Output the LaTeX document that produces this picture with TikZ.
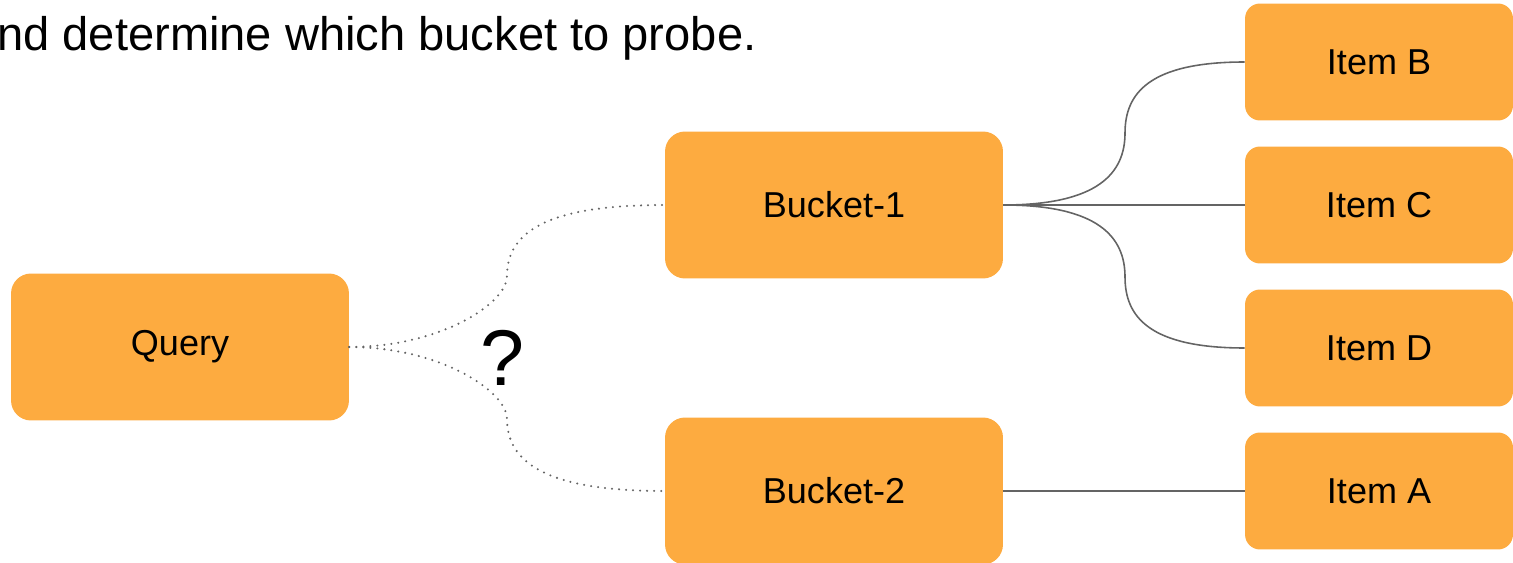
\documentclass[tikz,border=0pt]{standalone}
\usepackage{fontspec}
\setmainfont{Liberation Sans}
\usetikzlibrary{positioning}

\definecolor{boxorange}{RGB}{253,171,64}
\definecolor{linegray}{RGB}{100,100,100}

\begin{document}
\begin{tikzpicture}[x=0.02cm, y=-0.02cm,
            bigbox/.style={rectangle, rounded corners=0.4cm, fill=boxorange, inner sep=0pt,
                minimum width=6.76cm, minimum height=2.94cm, font=\fontsize{20.5}{24}\selectfont},
            itembox/.style={rectangle, rounded corners=0.3cm, fill=boxorange, inner sep=0pt,
                minimum width=5.36cm, minimum height=2.34cm, font=\fontsize{20.5}{24}\selectfont},
            link/.style={draw=linegray, line width=0.9pt},
            probe/.style={draw=linegray, line width=1.3pt, line cap=round, dash pattern=on 0pt off 4pt}
        ]
            \useasboundingbox (0,0) rectangle (1513,563);

            % Caption
            \node[anchor=base west, inner sep=0pt, font=\fontsize{26.8}{32}\selectfont] (caption) at (-3,51)
                {nd determine which bucket to probe.};

            % Query and buckets
            \node[bigbox] (query) at (180,347) {Query};
            \node[bigbox] (bucket1) at (834,205) {Bucket-1};
            \node[bigbox] (bucket2) at (834,491) {Bucket-2};

            % Items
            \node[itembox] (itemB) at (1379,62) {Item B};
            \node[itembox] (itemC) at (1379,205) {Item C};
            \node[itembox] (itemD) at (1379,348) {Item D};
            \node[itembox] (itemA) at (1379,491) {Item A};

            % Bend points
            \coordinate (bendU) at (507,276);
            \coordinate (bendL) at (507,419);
            \coordinate (bendB) at (1125,133);
            \coordinate (bendD) at (1125,277);

            % Which bucket?
            \draw[probe] (query.east) .. controls +(90,0) and +(0,28) .. (bendU)
                .. controls +(0,-50) and +(-105,0) .. (bucket1.west);
            \draw[probe] (query.east) .. controls +(90,0) and +(0,-28) .. (bendL)
                .. controls +(0,50) and +(-105,0) .. (bucket2.west);
            \node[anchor=base, inner sep=0pt, font=\fontsize{45}{54}\selectfont] (ask) at (502,386) {?};

            % Bucket contents
            \draw[link] (bucket1.east) .. controls +(95,0) and +(0,40) .. (bendB)
                .. controls +(0,-40) and +(-95,0) .. (itemB.west);
            \draw[link] (bucket1.east) -- (itemC.west);
            \draw[link] (bucket1.east) .. controls +(95,0) and +(0,-40) .. (bendD)
                .. controls +(0,40) and +(-95,0) .. (itemD.west);
            \draw[link] (bucket2.east) -- (itemA.west);
        \end{tikzpicture}
\end{document}
